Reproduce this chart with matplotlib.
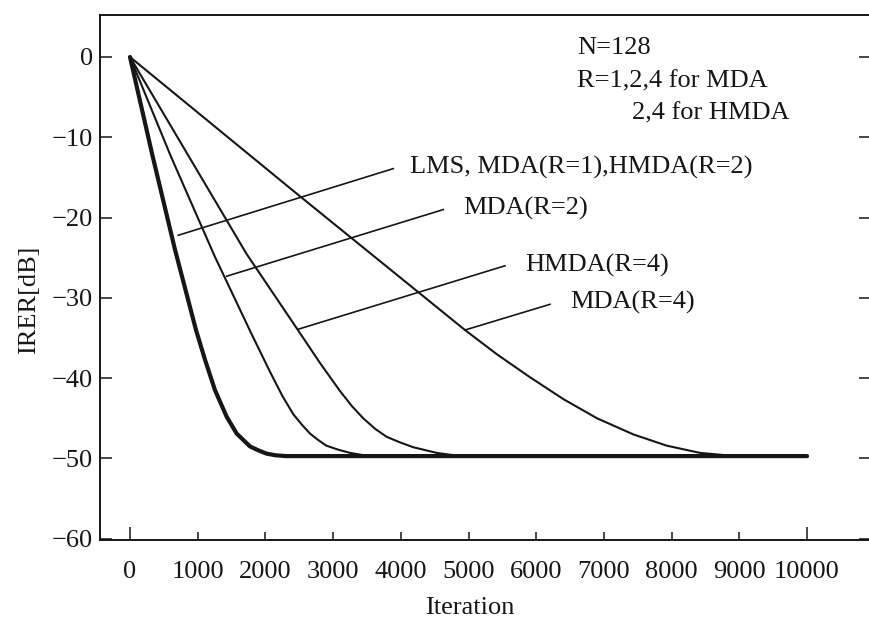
import matplotlib
matplotlib.use("Agg")
import matplotlib.pyplot as plt

# learning curves (iteration, IRER in dB)
it_lms = [0, 330, 665, 975, 1108, 1256, 1428, 1576, 1773, 1900, 2019, 2150, 2300, 10000]
db_lms = [0, -12.2, -24.0, -34.0, -37.7, -41.5, -44.8, -46.9, -48.5, -49.0, -49.4, -49.6, -49.7, -49.7]

it_mda2 = [0, 600, 1250, 1790, 2068, 2250, 2413, 2540, 2659, 2780, 2900, 3075, 3250, 3420, 3600, 10000]
db_mda2 = [0, -12.3, -24.8, -34.4, -39.2, -42.2, -44.5, -45.8, -46.9, -47.7, -48.4, -48.9, -49.3, -49.55, -49.7, -49.7]

it_hmda4 = [0, 1720, 2480, 2806, 3102, 3280, 3446, 3620, 3791, 3990, 4185, 4530, 4700, 4900, 10000]
db_hmda4 = [0, -24.5, -34.0, -38.1, -41.6, -43.5, -45.0, -46.3, -47.3, -48.0, -48.6, -49.3, -49.5, -49.7, -49.7]

it_mda4 = [0, 2460, 4948, 5416, 5894, 6400, 6900, 7435, 7927, 8419, 8813, 9000, 9200, 10000]
db_mda4 = [0, -17.0, -34.0, -37.0, -39.8, -42.6, -45.0, -47.0, -48.4, -49.3, -49.6, -49.68, -49.7, -49.7]

# leader lines: (x0, x1), (y0, y1), label, label position
labels = ["LMS, MDA(R=1),HMDA(R=2)", "MDA(R=2)", "HMDA(R=4)", "MDA(R=4)"]
lead_x = [(713, 3889), (1428, 4628), (2486, 5539), (4948, 6204)]
lead_y = [(-22.2, -13.9), (-27.3, -19.0), (-33.9, -26.0), (-34.0, -30.8)]
label_xy = [(4136, -13.8), (4919, -18.8), (5835, -26.0), (6500, -30.6)]

note_lines = ["N=128", "R=1,2,4 for MDA", "2,4 for HMDA"]
note_xy = [(6603, 1.1), (6603, -3.0), (7415, -7.0)]

xticks = list(range(0, 10001, 1000))
yticks = list(range(-60, 1, 10))

plt.rcParams['font.family'] = ['Liberation Serif', 'DejaVu Serif']
fs = 19
ink = '#161616'

fig = plt.figure(figsize=(8.69, 6.21), dpi=100)
ax = fig.add_axes([100/869, 81/621, 771/869, 525/621])

ax.plot(it_mda4, db_mda4, c=ink, lw=1.5)
ax.plot(it_hmda4, db_hmda4, c=ink, lw=1.5)
ax.plot(it_mda2, db_mda2, c=ink, lw=1.5)
ax.plot(it_lms, db_lms, c=ink, lw=3.0, solid_capstyle='round', solid_joinstyle='round')

for (xs, ys, txt, pos) in zip(lead_x, lead_y, labels, label_xy):
    ax.plot(xs, ys, c=ink, lw=1.2)
    ax.text(pos[0], pos[1], txt, fontsize=fs, ha='left', va='center', color=ink)

for txt, pos in zip(note_lines, note_xy):
    ax.text(pos[0], pos[1], txt, fontsize=fs, ha='left', va='center', color=ink)

ax.set_xlim(-443, 10945)
ax.set_ylim(-60.15, 5.23)
ax.set_xticks(xticks)
ax.set_yticks(yticks)

ax.tick_params(axis='both', direction='in', labelsize=fs, colors=ink, width=1.1)
ax.tick_params(axis='y', right=True, length=8.6, pad=5)
ax.tick_params(axis='x', length=5.8, pad=15)
xt = ax.xaxis.get_major_ticks()
xt[0].tick1line.set_markersize(9.4)
xt[-1].tick1line.set_markersize(9.4)

for s in ax.spines.values():
    s.set_linewidth(1.4)
    s.set_color(ink)

ax.set_xlabel("Iteration", fontsize=fs, color=ink)
ax.set_ylabel("IRER[dB]", fontsize=fs, color=ink)
ax.xaxis.set_label_coords(0.48, -0.108)
ax.yaxis.set_label_coords(-0.078, 0.457)

fig.savefig("out.png", dpi=100)
